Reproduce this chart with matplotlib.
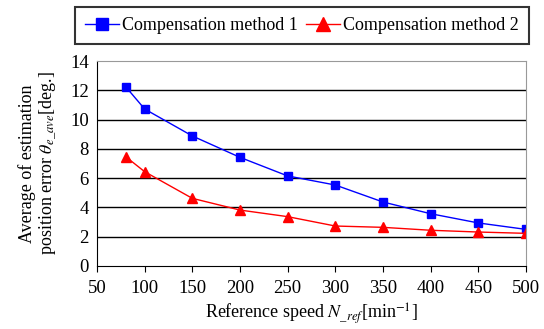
import matplotlib
matplotlib.use("Agg")
import matplotlib.pyplot as plt

plt.rcParams['font.family'] = ['Liberation Serif', 'DejaVu Serif']
plt.rcParams['mathtext.fontset'] = 'stix'

speed = [80, 100, 150, 200, 250, 300, 350, 400, 450, 500]
method1 = [12.25, 10.72, 8.88, 7.42, 6.15, 5.53, 4.37, 3.57, 2.94, 2.5]
method2 = [7.47, 6.44, 4.62, 3.82, 3.37, 2.73, 2.64, 2.44, 2.32, 2.23]
xticks = [50, 100, 150, 200, 250, 300, 350, 400, 450, 500]
yticks = [0, 2, 4, 6, 8, 10, 12, 14]

fig = plt.figure(figsize=(5.44, 3.29), dpi=100)
ax = fig.add_axes([97/544, 1 - 266/329, (526 - 97)/544, (266 - 61)/329])

ax.plot(speed, method1, color='#0000ff', marker='s', markersize=6, lw=1,
        label='Compensation method 1')
ax.plot(speed, method2, color='#ff0000', marker='^', markersize=7, lw=1,
        label='Compensation method 2')

ax.set_xlim(50, 500)
ax.set_ylim(0, 14)
ax.set_xticks(xticks)
ax.set_yticks(yticks)
ax.tick_params(axis='x', direction='out', length=4, labelsize=13.5, pad=6)
ax.tick_params(axis='y', length=0, labelsize=13.5, pad=6)
for y in yticks[1:-1]:
    ax.axhline(y, color='black', lw=1, zorder=0)
ax.spines['top'].set_color('#999999')
ax.spines['right'].set_color('#999999')
ax.spines['left'].set_color('black')
ax.spines['bottom'].set_color('black')

ax.set_xlabel(r'Reference speed $N_{\_ref}$[min$^{-1}$]', fontsize=13, labelpad=3)
ax.set_ylabel('Average of estimation\n' + r'position error $\theta_{e\_ave}$[deg.]',
              fontsize=13, labelpad=8, linespacing=1.1)

leg = fig.legend(loc='upper left', bbox_to_anchor=(75/544, 1 - 7/329), ncol=2,
                 fontsize=13, frameon=True, fancybox=False, edgecolor='black',
                 handlelength=1.9, handletextpad=0.15, columnspacing=0.45,
                 borderpad=0.55, borderaxespad=0, markerscale=1.4)
leg.get_frame().set_linewidth(1.5)

fig.savefig('out.png', dpi=100)
